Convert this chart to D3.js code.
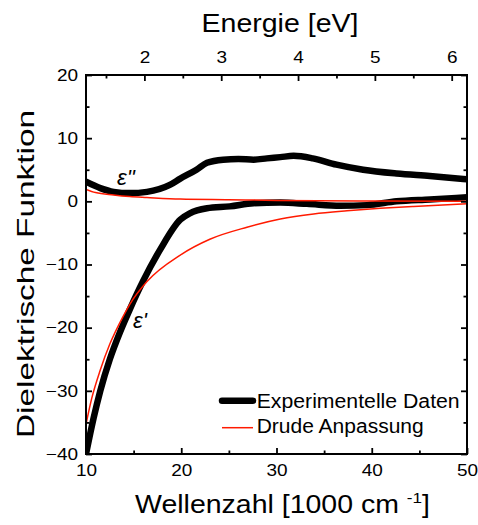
<!DOCTYPE html>
<html><head><meta charset="utf-8">
<script src="https://cdn.jsdelivr.net/npm/d3@7"></script>
<style>
html,body{margin:0;padding:0;background:#fff;}
text{font-family:"Liberation Sans",Arial,sans-serif;fill:#000;}
</style></head>
<body><svg id="chart" width="478" height="525"></svg>
<script>
// ---- data (wavenumber in 1000 cm^-1) ----
const eps2ExpX = [10, 11.5, 12.9, 14.6, 16.4, 18.8, 19.9, 21.6, 22.7, 24.4, 26.0, 27.6, 29.0, 30.4, 31.8, 33.8, 36.3, 39.1, 42.6, 46.1, 50];
const eps2ExpY = [3.1, 2.1, 1.5, 1.3, 1.5, 2.6, 3.6, 5.0, 6.1, 6.6, 6.7, 6.6, 6.8, 7.0, 7.2, 6.8, 5.8, 5.0, 4.4, 4.0, 3.5];

const eps1ExpX = [10, 10.8, 11.5, 12.5, 13.6, 14.6, 16.0, 17.8, 19.9, 20.9, 22.7, 25.1, 27.6, 30.4, 33.2, 36.7, 39.5, 42.6, 46.1, 50];
const eps1ExpY = [-40, -34.3, -30.0, -25.0, -20.6, -17.1, -12.6, -7.6, -2.9, -1.9, -1.1, -0.8, -0.3, -0.2, -0.4, -0.7, -0.6, 0, 0.3, 0.65];

const eps1FitX = [10, 10.6, 11.5, 12.5, 13.9, 14.6, 16.4, 19.9, 23.0, 26.9, 30.4, 33.9, 37.4, 40.9, 44.4, 50];
const eps1FitY = [-35.3, -31.2, -26.7, -22.6, -18.2, -16.3, -12.7, -8.5, -6.0, -4.1, -2.8, -2.0, -1.5, -1.1, -0.8, -0.4];

const eps2FitX = [10, 11, 12.9, 14.6, 16.4, 19.9, 25, 30, 40, 50];
const eps2FitY = [1.9, 1.4, 1.0, 0.75, 0.6, 0.35, 0.25, 0.15, 0.05, 0.0];

const xTicks = [10, 20, 30, 40, 50];
const xMinorTicks = [15, 25, 35, 45];
const yTicks = [20, 10, 0, -10, -20, -30, -40];
const yMinorTicks = [15, 5, -5, -15, -25, -35];
const eVTicks = [2, 3, 4, 5, 6];
const eVMinorTicks = [1.5, 2.5, 3.5, 4.5, 5.5];
const eVtoWavenumber = 8.06554; // 1 eV = 8065.54 cm^-1

const legendLabels = ["Experimentelle Daten", "Drude Anpassung"];

// ---- layout ----
const svg = d3.select("#chart");
const L = 86, R = 467, T = 75, B = 454;
const x = d3.scaleLinear().domain([10, 50]).range([L, R]);
const y = d3.scaleLinear().domain([-40, 20]).range([B, T]);
const xE = d3.scaleLinear().domain([10 / eVtoWavenumber, 50 / eVtoWavenumber]).range([L, R]);

svg.append("defs").append("clipPath").attr("id", "clip")
  .append("rect").attr("x", L).attr("y", T).attr("width", R - L).attr("height", B - T);

const line = d3.line().x(d => x(d[0])).y(d => y(d[1])).curve(d3.curveMonotoneX);
const zip = (a, b) => a.map((v, i) => [v, b[i]]);

const plot = svg.append("g").attr("clip-path", "url(#clip)");
[[eps2ExpX, eps2ExpY], [eps1ExpX, eps1ExpY]].forEach(([a, b]) => {
  plot.append("path").attr("d", line(zip(a, b))).attr("fill", "none")
    .attr("stroke", "#000").attr("stroke-width", 6.5).attr("stroke-linejoin", "round").attr("stroke-linecap", "round");
});
[[eps1FitX, eps1FitY], [eps2FitX, eps2FitY]].forEach(([a, b]) => {
  plot.append("path").attr("d", line(zip(a, b))).attr("fill", "none")
    .attr("stroke", "#ff1a00").attr("stroke-width", 1.5);
});

// ---- axes ----
const SX = 1.15;
function styleAxis(g) {
  g.select(".domain").remove();
  g.selectAll(".tick line").attr("stroke", "#000").attr("stroke-width", 1.8);
  g.selectAll("text").attr("font-size", 16.5).attr("font-family", "Liberation Sans, Arial, sans-serif").attr("fill", "#000");
}
function stretchMid(g) {
  g.selectAll(".tick text").attr("transform", `scale(${SX},1)`);
}
function stretchEnd(g) {
  g.selectAll(".tick text").attr("x", -8 / SX).attr("transform", `scale(${SX},1)`);
}
svg.append("g").attr("transform", `translate(0,${B})`)
  .call(d3.axisBottom(x).tickValues(xTicks).tickSize(-6).tickPadding(10).tickFormat(d3.format("d"))).call(styleAxis).call(stretchMid);
svg.append("g").attr("transform", `translate(0,${B})`)
  .call(d3.axisBottom(x).tickValues(xMinorTicks).tickSize(-3.5).tickFormat("")).call(styleAxis);
svg.append("g").attr("transform", `translate(0,${T})`)
  .call(d3.axisTop(xE).tickValues(eVTicks).tickSize(-6).tickPadding(12).tickFormat(d3.format("d"))).call(styleAxis).call(stretchMid);
svg.append("g").attr("transform", `translate(0,${T})`)
  .call(d3.axisTop(xE).tickValues(eVMinorTicks).tickSize(-3.5).tickFormat("")).call(styleAxis);
svg.append("g").attr("transform", `translate(${L},0)`)
  .call(d3.axisLeft(y).tickValues(yTicks).tickSize(-6).tickPadding(8).tickFormat(d3.format("d"))).call(styleAxis).call(stretchEnd);
svg.append("g").attr("transform", `translate(${L},0)`)
  .call(d3.axisLeft(y).tickValues(yMinorTicks).tickSize(-3.5).tickFormat("")).call(styleAxis);
svg.append("g").attr("transform", `translate(${R},0)`)
  .call(d3.axisRight(y).tickValues(yTicks).tickSize(-6).tickFormat("")).call(styleAxis);
svg.append("g").attr("transform", `translate(${R},0)`)
  .call(d3.axisRight(y).tickValues(yMinorTicks).tickSize(-3.5).tickFormat("")).call(styleAxis);

svg.append("rect").attr("x", L).attr("y", T).attr("width", R - L).attr("height", B - T)
  .attr("fill", "none").attr("stroke", "#000").attr("stroke-width", 2);

// ---- titles ----
svg.append("text").attr("x", 201.5).attr("y", 31.5).attr("font-size", 25)
  .attr("textLength", 157).attr("lengthAdjust", "spacingAndGlyphs").text("Energie [eV]");

const xt = svg.append("text").attr("x", 135).attr("y", 513).attr("font-size", 25)
  .attr("textLength", 295).attr("lengthAdjust", "spacingAndGlyphs");
xt.append("tspan").text("Wellenzahl [1000 cm ");
xt.append("tspan").attr("font-size", 15).attr("dy", -10).text("-1");
xt.append("tspan").attr("dy", 10).text("]");

svg.append("text").attr("transform", "translate(33.5,274) rotate(-90)")
  .attr("text-anchor", "middle").attr("font-size", 24)
  .attr("textLength", 328).attr("lengthAdjust", "spacingAndGlyphs").text("Dielektrische Funktion");

// ---- curve labels ----
svg.append("text").attr("x", 117).attr("y", 185).attr("font-size", 22)
  .attr("font-family", "Liberation Serif, serif").attr("font-style", "italic").text("ε''");
svg.append("text").attr("x", 133).attr("y", 328).attr("font-size", 22)
  .attr("font-family", "Liberation Serif, serif").attr("font-style", "italic").text("ε'");

// ---- legend ----
const leg = svg.append("g");
leg.append("line").attr("x1", 222).attr("x2", 253).attr("y1", 400.7).attr("y2", 400.7)
  .attr("stroke", "#000").attr("stroke-width", 6.5).attr("stroke-linecap", "round");
leg.append("line").attr("x1", 222).attr("x2", 253).attr("y1", 427.7).attr("y2", 427.7)
  .attr("stroke", "#ff1a00").attr("stroke-width", 1.5);
leg.append("text").attr("x", 256.7).attr("y", 407.7).attr("font-size", 20)
  .attr("textLength", 203).attr("lengthAdjust", "spacingAndGlyphs").text(legendLabels[0]);
leg.append("text").attr("x", 256.7).attr("y", 433.3).attr("font-size", 20)
  .attr("textLength", 167).attr("lengthAdjust", "spacingAndGlyphs").text(legendLabels[1]);
</script></body></html>
